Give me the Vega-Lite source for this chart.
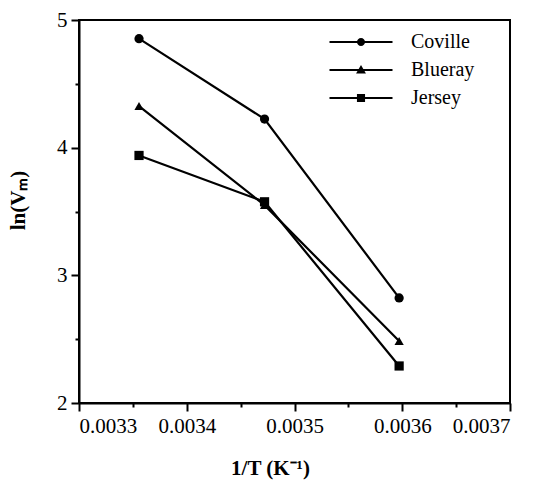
{
  "$schema": "https://vega.github.io/schema/vega-lite/v6.json",
  "width": 431,
  "height": 383,
  "autosize": {"type": "none"},
  "padding": {"left": 79, "top": 20, "right": 30, "bottom": 79},
  "background": "white",
  "config": {
    "view": {"stroke": "black", "strokeWidth": 2},
    "font": "Liberation Serif",
    "axis": {"grid": false, "domainColor": "black", "domainWidth": 2, "tickColor": "black", "tickWidth": 2, "labelColor": "black", "titleColor": "black", "labelFont": "Liberation Serif", "titleFont": "Liberation Serif"}
  },
  "data": {"values": [
    {"series": "Coville", "invT": 0.0033557, "lnVm": 4.854},
    {"series": "Coville", "invT": 0.0034722, "lnVm": 4.224},
    {"series": "Coville", "invT": 0.0035971, "lnVm": 2.823},
    {"series": "Blueray", "invT": 0.0033557, "lnVm": 4.326},
    {"series": "Blueray", "invT": 0.0034722, "lnVm": 3.55},
    {"series": "Blueray", "invT": 0.0035971, "lnVm": 2.486},
    {"series": "Jersey", "invT": 0.0033557, "lnVm": 3.939},
    {"series": "Jersey", "invT": 0.0034722, "lnVm": 3.576},
    {"series": "Jersey", "invT": 0.0035971, "lnVm": 2.29}
  ]},
  "layer": [
    {
      "mark": {"type": "line", "color": "black", "strokeWidth": 2.2},
      "encoding": {
        "x": {"field": "invT", "type": "quantitative", "scale": {"domain": [0.0033, 0.0037], "nice": false, "zero": false},
          "axis": {"orient": "bottom", "values": [0.0033, 0.0034, 0.0035, 0.0036, 0.0037], "format": ".4f", "tickSize": 8, "labelFont": "Liberation Serif", "labelFontSize": 21, "labelPadding": 4, "title": "1/T (K⁻¹)", "titleFont": "Liberation Serif", "titleFontSize": 21, "titleFontWeight": "bold", "titlePadding": 21, "titleX": 191}},
        "y": {"field": "lnVm", "type": "quantitative", "scale": {"domain": [2, 5], "nice": false, "zero": false},
          "axis": {"orient": "left", "values": [2, 3, 4, 5], "format": "d", "tickSize": 8, "labelFont": "Liberation Serif", "labelFontSize": 21, "labelPadding": 4, "title": "ln(Vₘ)", "titleFont": "Liberation Serif", "titleFontSize": 21, "titleFontWeight": "bold", "titlePadding": 28, "titleY": 180}},
        "detail": {"field": "series"}
      }
    },
    {
      "mark": {"type": "point", "filled": true, "color": "black", "opacity": 1, "size": 85},
      "encoding": {
        "x": {"field": "invT", "type": "quantitative",
          "axis": {"orient": "bottom", "values": [0.00335, 0.00345, 0.00355, 0.00365], "labels": false, "tickSize": 4, "domain": false, "title": null}},
        "y": {"field": "lnVm", "type": "quantitative",
          "axis": {"orient": "left", "values": [2.5, 3.5, 4.5], "labels": false, "tickSize": 4, "domain": false, "title": null}},
        "shape": {"field": "series", "type": "nominal",
          "scale": {"domain": ["Coville", "Blueray", "Jersey"], "range": ["circle", "triangle-up", "square"]},
          "legend": null}
      }
    },
    {
      "transform": [{"filter": "datum.lnVm > 100"}],
      "mark": {"type": "point", "filled": true, "color": "black", "opacity": 1, "size": 81},
      "encoding": {
        "x": {"field": "invT", "type": "quantitative", "axis": null},
        "y": {"field": "lnVm", "type": "quantitative", "axis": null},
        "shape": {"field": "series", "type": "nominal",
          "scale": {"domain": ["Coville", "Blueray", "Jersey"], "range": [
            "M-7,-0.22H7V0.22H-7ZM0,-0.9A0.9,0.9 0 1,1 0,0.9A0.9,0.9 0 1,1 0,-0.9Z",
            "M-7,-0.22H7V0.22H-7ZM0,-1.1L1.1,0.8L-1.1,0.8Z",
            "M-7,-0.22H7V0.22H-7ZM-0.9,-0.9H0.9V0.9H-0.9Z"]},
          "legend": {
            "orient": "none", "legendX": 272, "legendY": 12, "title": null, "padding": 0,
            "symbolSize": 81, "symbolFillColor": "black", "symbolOpacity": 1,
            "labelFontSize": 20, "labelFont": "Liberation Serif", "labelColor": "black",
            "labelOffset": 40, "rowPadding": 8
          }}
      }
    }
  ],
  "resolve": {"axis": {"x": "independent", "y": "independent"}, "scale": {"shape": "independent"}}
}
